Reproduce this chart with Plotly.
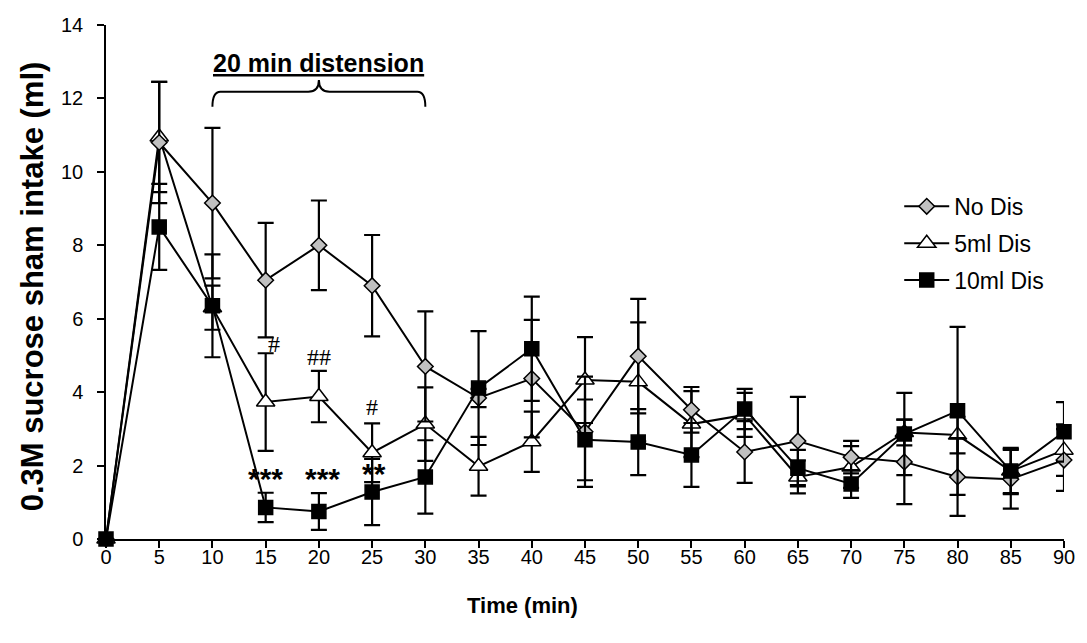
import plotly.graph_objects as go

# Sham intake over time (mean ± SEM) for three distension conditions
time_min = [0, 5, 10, 15, 20, 25, 30, 35, 40, 45, 50, 55, 60, 65, 70, 75, 80, 85, 90]

no_dis = [0, 10.8, 9.15, 7.05, 8.0, 6.9, 4.7, 3.84, 4.37, 2.92, 4.98, 3.52, 2.37, 2.67, 2.23, 2.1, 1.69, 1.63, 2.15]
no_dis_err = [0, 1.65, 2.05, 1.56, 1.22, 1.38, 1.5, 0.25, 1.6, 1.5, 1.56, 0.62, 0.84, 1.2, 0.44, 1.15, 1.06, 0.8, 0.84]

dis_5ml = [0, 10.95, 6.3, 3.73, 3.88, 2.35, 3.13, 1.98, 2.65, 4.33, 4.28, 3.13, 3.38, 1.69, 1.96, 2.9, 2.83, 1.85, 2.42]
dis_5ml_err = [0, 1.5, 0.6, 1.33, 0.7, 0.8, 1.0, 0.8, 0.82, 1.17, 1.62, 0.9, 0.6, 0.45, 0.57, 0.35, 0.5, 0.6, 0.7]

dis_10ml = [0, 8.5, 6.35, 0.86, 0.75, 1.28, 1.69, 4.11, 5.18, 2.7, 2.64, 2.29, 3.54, 1.93, 1.5, 2.86, 3.49, 1.85, 2.92]
dis_10ml_err = [0, 1.17, 1.4, 0.4, 0.5, 0.9, 1.0, 1.55, 1.42, 1.1, 0.9, 0.87, 0.55, 0.5, 0.38, 1.12, 2.29, 0.63, 0.81]

# Significance marks: (time, y, text)
hash_marks = [(15.8, 5.3, "#"), (20, 4.95, "##"), (25, 3.6, "#")]
star_marks = [(15, 1.65, "***"), (20.3, 1.65, "***"), (25.2, 1.78, "**")]

# Distension window
dist_start, dist_end = 10, 30
dist_label = "20 min distension"

x_title = "Time (min)"
y_title = "0.3M sucrose sham intake (ml)"

FONT = "Arial, Liberation Sans, sans-serif"

fig = go.Figure()


def add_series(name, y, err, symbol, fill, size, rank):
    fig.add_trace(go.Scatter(
        x=time_min, y=y, name=name, mode="lines+markers",
        line=dict(color="black", width=2),
        marker=dict(symbol=symbol, size=size, color=fill,
                    line=dict(color="black", width=1.5)),
        error_y=dict(type="data", array=err, visible=True,
                     color="black", thickness=2.2, width=8),
        cliponaxis=False, legendrank=rank, legendgroup=name,
    ))


add_series("5ml Dis", dis_5ml, dis_5ml_err, "triangle-up", "white", 16, 2)
add_series("No Dis", no_dis, no_dis_err, "diamond", "#c0c0c0", 12, 1)
add_series("10ml Dis", dis_10ml, dis_10ml_err, "square", "black", 14, 3)

for x, y, t in hash_marks:
    fig.add_annotation(x=x, y=y, text=t, showarrow=False,
                       font=dict(family="Liberation Serif, Times New Roman, serif",
                                 size=24, color="black"))
for x, y, t in star_marks:
    fig.add_annotation(x=x, y=y, text="<b>" + t + "</b>", showarrow=False,
                       font=dict(family=FONT, size=30, color="black"))

# Curly brace over the distension window
mid = (dist_start + dist_end) / 2
y_end, y_bar, y_tip = 11.77, 12.18, 12.5
rx, rt = 0.75, 1.0
brace = (
    f"M {dist_start},{y_end} Q {dist_start},{y_bar} {dist_start + rx},{y_bar} "
    f"L {mid - rt},{y_bar} Q {mid},{y_bar} {mid},{y_tip} "
    f"Q {mid},{y_bar} {mid + rt},{y_bar} "
    f"L {dist_end - rx},{y_bar} Q {dist_end},{y_bar} {dist_end},{y_end}"
)
fig.add_shape(type="path", path=brace, xref="x", yref="y",
              line=dict(color="black", width=2))
fig.add_annotation(x=mid, y=12.97, text="<b>" + dist_label + "</b>", showarrow=False,
                   font=dict(family=FONT, size=25, color="black", lineposition="under"))

# Axis titles
fig.add_annotation(xref="paper", yref="paper", x=0.435, y=-0.13,
                   xanchor="center", yanchor="middle", showarrow=False,
                   text="<b>" + x_title + "</b>",
                   font=dict(family=FONT, size=22, color="black"))
fig.add_annotation(xref="paper", yref="paper", x=-0.077, y=0.492,
                   xanchor="center", yanchor="middle", showarrow=False, textangle=-90,
                   text="<b>" + y_title + "</b>",
                   font=dict(family=FONT, size=31, color="black"))

fig.update_layout(
    width=1087, height=643,
    margin=dict(l=106, r=17, t=25, b=104),
    paper_bgcolor="white", plot_bgcolor="white",
    font=dict(family=FONT, color="black"),
    showlegend=True,
    legend=dict(x=0.828, y=0.689, xanchor="left", yanchor="top",
                font=dict(family=FONT, size=23, color="black"),
                bgcolor="rgba(0,0,0,0)", tracegroupgap=4, itemwidth=45),
    xaxis=dict(
        range=[0, 90], tickmode="array", tickvals=time_min,
        ticks="outside", ticklen=7, tickwidth=1.5, tickcolor="black",
        showline=True, linecolor="black", linewidth=1.5,
        showgrid=False, zeroline=False, ticklabelstandoff=-8,
        tickfont=dict(family=FONT, size=20, color="black"),
    ),
    yaxis=dict(
        range=[0, 14], tickmode="linear", tick0=0, dtick=2,
        ticks="outside", ticklen=7, tickwidth=1.5, tickcolor="black",
        showline=True, linecolor="black", linewidth=1.5,
        showgrid=False, zeroline=False, ticklabelstandoff=10,
        tickfont=dict(family=FONT, size=20, color="black"),
    ),
)

fig.write_html("out.html")
